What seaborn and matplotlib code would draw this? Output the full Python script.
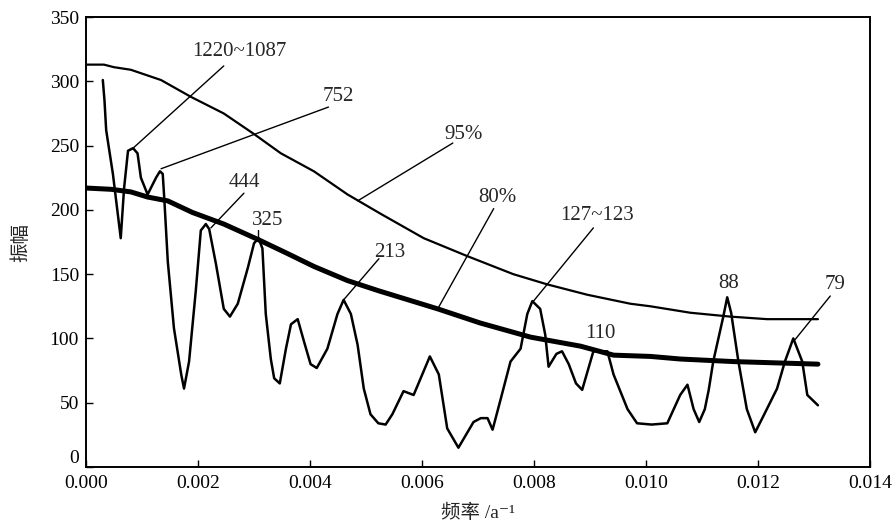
import matplotlib
matplotlib.use("Agg")
import matplotlib.pyplot as plt
import numpy as np
import pandas as pd
import seaborn as sns

# spectrum (frequency in 1e-3 /a, amplitude)
spec_f = [0.30, 0.33, 0.36, 0.48, 0.62, 0.68, 0.75, 0.84, 0.92, 0.98, 1.10, 1.25, 1.32, 1.37,
          1.40, 1.46, 1.57, 1.70, 1.75, 1.84, 1.96, 2.05, 2.14, 2.20, 2.32, 2.46, 2.57, 2.71,
          2.89, 3.00, 3.08, 3.15, 3.21, 3.30, 3.36, 3.46, 3.57, 3.66, 3.78, 3.89, 4.01, 4.12,
          4.31, 4.49, 4.60, 4.73, 4.85, 4.96, 5.08, 5.22, 5.35, 5.47, 5.67, 5.85, 6.14, 6.30,
          6.45, 6.65, 6.92, 7.05, 7.17, 7.26, 7.40, 7.58, 7.76, 7.88, 7.97, 8.11, 8.20, 8.26,
          8.40, 8.50, 8.62, 8.75, 8.86, 9.06, 9.31, 9.42, 9.67, 9.84, 10.10, 10.38, 10.61,
          10.74, 10.85, 10.95, 11.05, 11.12, 11.20, 11.38, 11.45, 11.52, 11.65, 11.80, 11.95,
          12.10, 12.34, 12.48, 12.63, 12.79, 12.88, 13.07]
spec_a = [301, 285, 262, 228, 178, 217, 246, 248, 244, 225, 212, 225, 230, 228,
          207, 160, 108, 72, 61, 82, 137, 184, 189, 185, 158, 123, 117, 127,
          155, 174, 178, 170, 119, 84, 69, 65, 92, 111, 115, 98, 80, 77,
          92, 119, 130, 119, 95, 61, 41, 34, 33, 41, 59, 56, 86, 72,
          30, 15, 35, 38, 38, 29, 52, 82, 92, 119, 129, 123, 103, 78,
          88, 90, 80, 65, 60, 90, 90, 72, 45, 34, 33, 34, 56,
          64, 45, 35, 45, 60, 82, 117, 132, 120, 82, 45, 27,
          40, 61, 82, 100, 82, 56, 48]

# 95% confidence curve
c95_f = [0.00, 0.32, 0.50, 0.80, 1.34, 1.87, 2.46, 3.00, 3.48, 4.07, 4.67, 5.26, 6.03,
         6.81, 7.63, 8.24, 8.95, 9.72, 10.08, 10.79, 11.50, 12.16, 13.07]
c95_a = [313, 313, 311, 309, 301, 288, 275, 259, 244, 230, 212, 197, 178,
         164, 150, 142, 134, 127, 125, 120, 117, 115, 115]

# 80% confidence curve
c80_f = [0.00, 0.45, 0.80, 1.10, 1.46, 1.90, 2.46, 3.07, 3.60, 4.07, 4.67, 5.23, 6.28,
         7.04, 7.94, 8.83, 9.42, 10.08, 10.61, 11.56, 13.07]
c80_a = [217, 216, 214, 210, 207, 198, 189, 177, 166, 156, 145, 137, 123,
         112, 101, 94, 87, 86, 84, 82, 80]

# labels: text position, leader line start, leader line end (None = no line)
lab_text = ["1220~1087", "752", "444", "325", "213", "95%", "80%", "127~123", "110", "88", "79"]
lab_x = [2.73, 4.50, 2.82, 3.25, 5.42, 6.74, 7.34, 9.13, 9.18, 11.47, 13.38]
lab_y = [323, 288, 221, 192, 167, 259, 210, 196, 104, 143, 142]
line_x0 = [2.46, 4.33, 2.82, 3.08, 5.23, 6.55, 7.28, 9.06, None, None, 13.29]
line_y0 = [312, 280, 213, 184, 162, 252, 201, 186, None, None, 133]
line_x1 = [0.84, 1.34, 2.23, 3.08, 4.60, 4.85, 6.28, 7.99, None, None, 12.66]
line_y1 = [248, 232, 186, 178, 130, 207, 123, 129, None, None, 99]

sns.set_style("ticks")
fonts = ["Liberation Serif", "Noto Sans CJK SC", "DejaVu Serif"]
plt.rcParams["font.family"] = fonts

spec = pd.DataFrame({"f": np.array(spec_f) * 1e-3, "a": spec_a})
c95 = pd.DataFrame({"f": np.array(c95_f) * 1e-3, "a": c95_a})
c80 = pd.DataFrame({"f": np.array(c80_f) * 1e-3, "a": c80_a})

fig = plt.figure(figsize=(8.96, 5.25), dpi=100)
ax = fig.add_axes([0.096, 0.1105, 0.875, 0.857])

sns.lineplot(data=c95, x="f", y="a", ax=ax, color="black", lw=1.6, sort=False)
sns.lineplot(data=c80, x="f", y="a", ax=ax, color="black", lw=3.6, sort=False)
sns.lineplot(data=spec, x="f", y="a", ax=ax, color="black", lw=1.8, sort=False)

for i, t in enumerate(lab_text):
    ax.text(lab_x[i] * 1e-3, lab_y[i], t, ha="center", va="center", fontsize=15)
    if line_x0[i] is not None:
        ax.plot([line_x0[i] * 1e-3, line_x1[i] * 1e-3], [line_y0[i], line_y1[i]],
                color="black", lw=1.0)

ax.set_xlim(0, 0.014)
ax.set_ylim(0, 350)
ax.set_xticks(np.arange(0, 0.0141, 0.002))
ax.set_xticklabels([f"{v:.3f}" for v in np.arange(0, 0.0141, 0.002)])
ax.set_yticks(np.arange(0, 351, 50))
ax.tick_params(direction="in", length=5, width=1, labelsize=14, colors="black")
ax.tick_params(axis="x", pad=6)
ax.tick_params(axis="y", pad=5)
for s in ax.spines.values():
    s.set_linewidth(1.4)
    s.set_color("black")

# the "0" sits a little above the corner in the original
fig.canvas.draw()
ax.get_yticklabels()[0].set_va("bottom")

ax.set_xlabel("频率 /a\u207b\u00b9", fontsize=14, labelpad=8, family=fonts)
ax.set_ylabel("振幅", fontsize=14, labelpad=14, family=fonts)

fig.savefig("out.png", dpi=100)
